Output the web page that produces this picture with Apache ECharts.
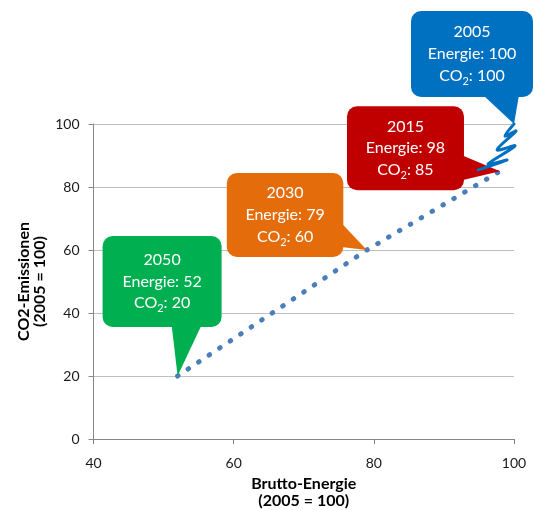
<!DOCTYPE html>
<html>
<head>
<meta charset="utf-8">
<script src="https://cdn.jsdelivr.net/npm/echarts@6/dist/echarts.min.js"></script>
<style>
  html, body { margin: 0; padding: 0; background: #ffffff; }
  #chart { width: 534px; height: 510px; }
</style>
</head>
<body>
<div id="chart"></div>
<script>
// Years and their index values (2005 = 100)
const years = ['2005', '2015', '2030', '2050'];
const energie = [100, 98, 79, 52];
const co2 = [100, 85, 60, 20];

// Axis ticks
const xTicks = [40, 60, 80, 100];
const yTicks = [0, 20, 40, 60, 80, 100];

// Callout look: colour per year, box edges and wedge base in px relative to the point
const calloutColors = ['#0070C0', '#C00000', '#E46C0A', '#00B050'];
const calloutBoxes = [
  { x0: -103, x1: 19, y0: -113, y1: -27, side: 'bottom', w0: -31, w1: 5 },
  { x0: -153, x1: -36, y0: -65, y1: 19, side: 'right', w0: -16, w1: 9 },
  { x0: -140, x1: -23.5, y0: -77, y1: 7, side: 'right', w0: -27, w1: -3 },
  { x0: -75, x1: 44, y0: -140, y1: -49, side: 'bottom', w0: -6, w1: 24 }
];

// Scribble between 2005 and 2015: [fraction along the segment, sideways offset px]
const scribble = [[0, 0], [0.285, -5.2], [0.125, 3.9], [0.6, -8.9], [0.42, 7.2], [0.93, -13.5], [0.74, 3.5], [1.1, -21.4]];

const FONT = 'Lato, "Open Sans", sans-serif';

// dotted path runs 2050 -> 2030 -> 2015
const pathData = [3, 2, 1].map(i => [energie[i], co2[i]]);
const pointData = years.map((y, i) => [energie[i], co2[i]]);

function calloutText(i) {
  return '{t|' + years[i] + '}\n{t|Energie: ' + energie[i] + '}\n{t|CO}{s|2}{t|: ' + co2[i] + '}';
}

function renderCallout(params, api) {
  const i = params.dataIndex;
  const p = api.coord([api.value(0), api.value(1)]);
  const b = calloutBoxes[i];
  const color = calloutColors[i];
  const left = p[0] + b.x0, right = p[0] + b.x1;
  const top = p[1] + b.y0, bottom = p[1] + b.y1;
  let wedge;
  if (b.side === 'bottom') {
    wedge = [[p[0] + b.w0, bottom - 2], [p[0] + b.w1, bottom - 2], [p[0], p[1]]];
  } else {
    wedge = [[right - 2, p[1] + b.w0], [right - 2, p[1] + b.w1], [p[0], p[1]]];
  }
  return {
    type: 'group',
    children: [
      { type: 'polygon', shape: { points: wedge }, style: { fill: color } },
      {
        type: 'rect',
        shape: { x: left, y: top, width: right - left, height: bottom - top, r: 10 },
        style: { fill: color }
      },
      {
        type: 'text',
        x: (left + right) / 2,
        y: (top + bottom) / 2,
        style: {
          text: calloutText(i),
          align: 'center',
          verticalAlign: 'middle',
          fill: '#ffffff',
          rich: {
            t: { fontFamily: FONT, fontSize: 16, lineHeight: 21.7, fill: '#ffffff' },
            s: { fontFamily: FONT, fontSize: 11, lineHeight: 14, verticalAlign: 'bottom', fill: '#ffffff' }
          }
        }
      }
    ]
  };
}

function renderScribble(params, api) {
  const a = api.coord([api.value(0), api.value(1)]);
  const b = api.coord([api.value(2), api.value(3)]);
  const dx = b[0] - a[0], dy = b[1] - a[1];
  const len = Math.sqrt(dx * dx + dy * dy);
  const ux = dx / len, uy = dy / len;
  const nx = uy, ny = -ux;
  const pts = scribble.map(([t, s]) => [a[0] + ux * t * len + nx * s, a[1] + uy * t * len + ny * s]);
  return {
    type: 'polyline',
    shape: { points: pts, smooth: 0.35 },
    style: { stroke: '#0070C0', lineWidth: 3, fill: null, lineJoin: 'round', lineCap: 'round' }
  };
}

const chart = echarts.init(document.getElementById('chart'), null, { renderer: 'canvas' });

chart.setOption({
  animation: false,
  backgroundColor: '#ffffff',
  grid: { left: 93.5, right: 20, top: 124, bottom: 71, outerBoundsMode: 'none', containLabel: false },
  xAxis: {
    type: 'value',
    min: xTicks[0],
    max: xTicks[xTicks.length - 1],
    interval: 20,
    name: 'Brutto-Energie\n(2005 = 100)',
    nameLocation: 'middle',
    nameGap: 37,
    nameMoveOverlap: false,
    nameTextStyle: { fontFamily: FONT, fontWeight: 'bold', fontSize: 16, color: '#000', lineHeight: 16.5 },
    axisLine: { show: true, lineStyle: { color: '#868686', width: 1 } },
    axisTick: { show: true, inside: false, length: 5, lineStyle: { color: '#868686' } },
    axisLabel: { fontFamily: FONT, fontSize: 14, color: '#1a1a1a', margin: 17 },
    splitLine: { show: false }
  },
  yAxis: {
    type: 'value',
    min: yTicks[0],
    max: yTicks[yTicks.length - 1],
    interval: 20,
    name: 'CO2-Emissionen\n(2005 = 100)',
    nameLocation: 'middle',
    nameRotate: 90,
    nameGap: 45,
    nameMoveOverlap: false,
    nameTextStyle: { fontFamily: FONT, fontWeight: 'bold', fontSize: 16, color: '#000', lineHeight: 16.5 },
    axisLine: { show: true, lineStyle: { color: '#868686', width: 1 } },
    axisTick: { show: true, inside: false, length: 5, lineStyle: { color: '#868686' } },
    axisLabel: { fontFamily: FONT, fontSize: 14, color: '#1a1a1a', margin: 14 },
    splitLine: { show: true, lineStyle: { color: '#BFBFBF', width: 1 } }
  },
  series: [
    {
      type: 'line',
      data: pathData,
      symbol: 'none',
      z: 2,
      lineStyle: { color: '#4A7EBB', width: 5, type: [0.5, 12.13], cap: 'round' }
    },
    {
      type: 'custom',
      data: pointData,
      renderItem: renderCallout,
      z: 3
    },
    {
      type: 'custom',
      data: [[energie[0], co2[0], energie[1], co2[1]]],
      renderItem: renderScribble,
      z: 4
    }
  ]
});
</script>
</body>
</html>
